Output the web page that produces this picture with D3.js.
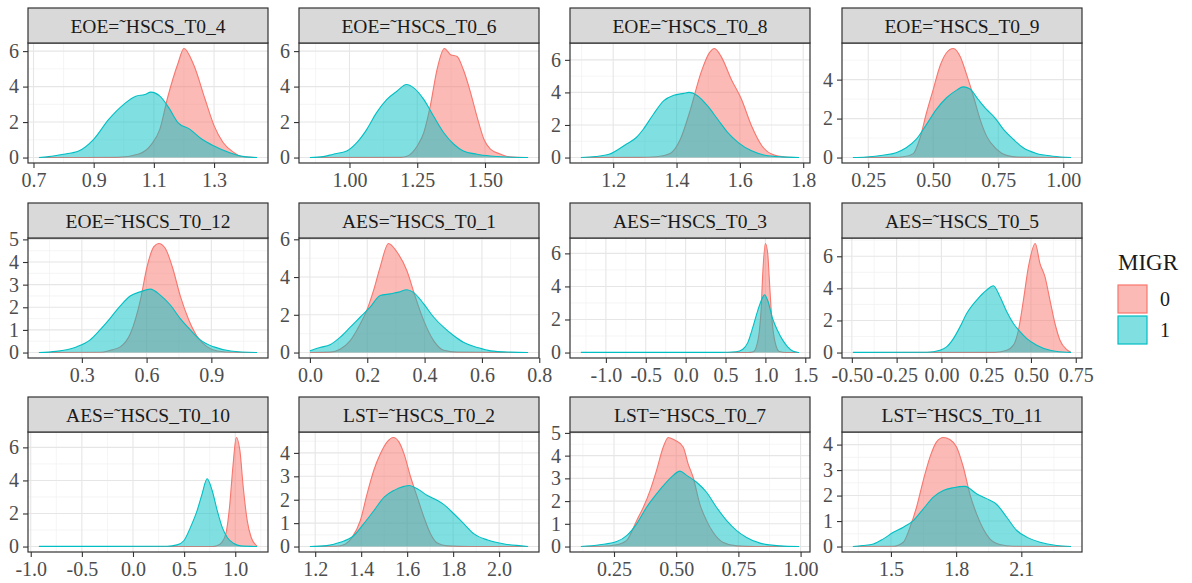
<!DOCTYPE html>
<html>
<head>
<meta charset="utf-8">
<script src="https://cdn.jsdelivr.net/npm/d3@7/dist/d3.min.js"></script>
<style>
  body { margin: 0; background: #ffffff; }
  svg { display: block; }
  text { font-family: 'Liberation Serif', serif; }
</style>
</head>
<body>
<svg></svg>
<script>
let width = 1192;
let height = 583;
let serif = "'Liberation Serif', serif";

let panelTitles = ["EOE=˜HSCS_T0_4", "EOE=˜HSCS_T0_6", "EOE=˜HSCS_T0_8", "EOE=˜HSCS_T0_9",
                   "EOE=˜HSCS_T0_12", "AES=˜HSCS_T0_1", "AES=˜HSCS_T0_3", "AES=˜HSCS_T0_5",
                   "AES=˜HSCS_T0_10", "LST=˜HSCS_T0_2", "LST=˜HSCS_T0_7", "LST=˜HSCS_T0_11"];

let xTickLabels = [["0.7", "0.9", "1.1", "1.3"],
                   ["1.00", "1.25", "1.50"],
                   ["1.2", "1.4", "1.6", "1.8"],
                   ["0.25", "0.50", "0.75", "1.00"],
                   ["0.3", "0.6", "0.9"],
                   ["0.0", "0.2", "0.4", "0.6", "0.8"],
                   ["-1.0", "-0.5", "0.0", "0.5", "1.0", "1.5"],
                   ["-0.50", "-0.25", "0.00", "0.25", "0.50", "0.75"],
                   ["-1.0", "-0.5", "0.0", "0.5", "1.0"],
                   ["1.2", "1.4", "1.6", "1.8", "2.0"],
                   ["0.25", "0.50", "0.75", "1.00"],
                   ["1.5", "1.8", "2.1"]];

let yTickLabels = [["0", "2", "4", "6"], ["0", "2", "4", "6"], ["0", "2", "4", "6"], ["0", "2", "4"],
                   ["0", "1", "2", "3", "4", "5"], ["0", "2", "4", "6"], ["0", "2", "4", "6"], ["0", "2", "4", "6"],
                   ["0", "2", "4", "6"], ["0", "1", "2", "3", "4"], ["0", "1", "2", "3", "4", "5"], ["0", "1", "2", "3", "4"]];

// density of MIGR = 0, [x, density]
let migr0 = [
  [[0.72,0],[0.98,0.01],[1.05,0.2],[1.09,0.7],[1.12,1.6],[1.146,3.4],[1.18,5.3],[1.2,6.15],[1.233,5.2],[1.27,3.3],[1.3,1.8],[1.33,0.85],[1.367,0.27],[1.39,0.06],[1.443,0]],
  [[0.854,0],[1.19,0.01],[1.212,0.07],[1.25,0.65],[1.274,1.4],[1.298,2.9],[1.323,4.96],[1.35,6.15],[1.373,5.8],[1.397,5.7],[1.42,4.96],[1.447,3.65],[1.47,2.34],[1.496,1.03],[1.52,0.47],[1.556,0.2],[1.59,0.04],[1.659,0]],
  [[1.098,0],[1.28,0.01],[1.337,0.05],[1.38,0.25],[1.412,1.12],[1.444,2.96],[1.477,5.2],[1.504,6.44],[1.52,6.7],[1.541,6.2],[1.573,4.8],[1.605,3.58],[1.637,1.94],[1.67,0.71],[1.702,0.2],[1.745,0.03],[1.787,0]],
  [[0.191,0],[0.35,0.01],[0.385,0.04],[0.423,0.2],[0.449,1.0],[0.474,2.3],[0.5,3.5],[0.526,4.7],[0.551,5.38],[0.577,5.6],[0.603,5.2],[0.628,4.27],[0.654,3.16],[0.68,1.96],[0.705,1.1],[0.744,0.42],[0.782,0.11],[0.83,0.02],[1.03,0]],
  [[0.101,0],[0.385,0.01],[0.432,0.1],[0.478,0.25],[0.525,0.84],[0.571,2.31],[0.602,3.79],[0.633,4.67],[0.656,4.82],[0.687,4.6],[0.719,3.79],[0.757,2.47],[0.796,1.43],[0.835,0.7],[0.881,0.25],[0.928,0.07],[1.005,0.01],[1.112,0]],
  [[0,0],[0.07,0.02],[0.105,0.18],[0.14,0.62],[0.175,1.5],[0.198,2.22],[0.222,3.29],[0.245,4.53],[0.274,5.78],[0.303,5.34],[0.338,4.35],[0.368,2.93],[0.397,1.69],[0.432,0.62],[0.467,0.12],[0.514,0.02],[0.761,0]],
  [[-1.313,0],[0.78,0],[0.85,0.05],[0.883,0.3],[0.925,1.33],[0.946,2.55],[0.967,4.78],[1.0,6.6],[1.029,6.0],[1.05,4.37],[1.07,2.74],[1.092,1.52],[1.133,0.41],[1.175,0.06],[1.26,0],[1.4225,0]],
  [[-0.494,0],[0.3,0.01],[0.365,0.14],[0.402,0.46],[0.43,1.39],[0.458,3.27],[0.486,5.35],[0.524,6.8],[0.55,5.56],[0.578,4.73],[0.606,3.27],[0.634,1.81],[0.662,0.77],[0.7,0.18],[0.724,0]],
  [[-0.92,0],[0.78,0],[0.82,0.05],[0.869,0.25],[0.911,0.85],[0.944,2.38],[0.977,4.82],[1.01,6.6],[1.045,5.83],[1.078,3.6],[1.117,1.57],[1.156,0.55],[1.199,0.1],[1.2136,0.03]],
  [[1.177,0],[1.29,0.01],[1.33,0.1],[1.36,0.38],[1.396,1.1],[1.426,2.26],[1.455,3.26],[1.484,3.97],[1.513,4.47],[1.54,4.66],[1.564,4.47],[1.586,3.97],[1.615,2.97],[1.644,2.11],[1.673,1.25],[1.702,0.54],[1.731,0.15],[1.775,0.03],[1.877,0],[2.126,0]],
  [[0.117,0],[0.2,0.01],[0.261,0.08],[0.301,0.27],[0.341,1.14],[0.368,1.73],[0.395,2.46],[0.421,3.35],[0.448,4.38],[0.468,4.8],[0.495,4.68],[0.528,4.38],[0.548,3.64],[0.568,3.05],[0.595,1.87],[0.622,1.14],[0.649,0.62],[0.689,0.18],[0.743,0.03],[0.823,0],[0.994,0]],
  [[1.325,0],[1.51,0.01],[1.557,0.17],[1.588,0.76],[1.618,1.55],[1.649,2.6],[1.68,3.52],[1.71,4.11],[1.741,4.28],[1.771,4.2],[1.802,3.91],[1.833,3.12],[1.863,2.07],[1.894,1.28],[1.925,0.69],[1.955,0.3],[2.001,0.08],[2.063,0.01],[2.329,0]]
];

// density of MIGR = 1
let migr1 = [
  [[0.718,0],[0.75,0.05],[0.8,0.19],[0.85,0.37],[0.9,1.03],[0.95,2.15],[1.0,3.0],[1.04,3.46],[1.07,3.55],[1.09,3.69],[1.12,3.46],[1.15,2.8],[1.18,1.97],[1.22,1.59],[1.26,1.03],[1.3,0.65],[1.35,0.28],[1.4,0.05],[1.443,0]],
  [[0.854,0],[0.903,0.05],[0.94,0.19],[0.99,0.37],[1.027,0.84],[1.064,1.59],[1.1,2.53],[1.138,3.28],[1.175,3.74],[1.21,4.12],[1.237,3.93],[1.274,3.28],[1.31,2.34],[1.348,1.4],[1.385,0.75],[1.42,0.37],[1.47,0.19],[1.52,0.09],[1.58,0.03],[1.659,0]],
  [[1.098,0],[1.144,0.06],[1.187,0.2],[1.241,0.82],[1.273,1.23],[1.295,1.74],[1.327,2.66],[1.359,3.48],[1.391,3.82],[1.423,3.94],[1.439,4.0],[1.466,3.8],[1.498,3.17],[1.53,2.35],[1.562,1.53],[1.595,0.92],[1.637,0.41],[1.68,0.14],[1.734,0.04],[1.787,0]],
  [[0.191,0],[0.242,0.03],[0.306,0.12],[0.357,0.25],[0.396,0.5],[0.435,0.94],[0.474,1.7],[0.512,2.47],[0.551,3.07],[0.59,3.46],[0.615,3.63],[0.64,3.53],[0.673,2.98],[0.705,2.47],[0.737,2.04],[0.77,1.45],[0.808,0.94],[0.846,0.5],[0.897,0.21],[0.96,0.07],[1.03,0]],
  [[0.101,0],[0.18,0.05],[0.275,0.25],[0.337,0.55],[0.384,1.0],[0.43,1.5],[0.477,2.05],[0.524,2.5],[0.57,2.68],[0.617,2.8],[0.663,2.54],[0.71,2.1],[0.756,1.5],[0.803,1.0],[0.85,0.55],[0.912,0.25],[0.99,0.07],[1.112,0]],
  [[0,0.09],[0.035,0.27],[0.07,0.41],[0.105,0.8],[0.14,1.33],[0.175,1.87],[0.21,2.4],[0.245,3.02],[0.28,3.11],[0.31,3.2],[0.338,3.33],[0.36,3.2],[0.397,2.58],[0.432,1.87],[0.467,1.33],[0.502,0.89],[0.537,0.53],[0.584,0.27],[0.63,0.09],[0.7,0.02],[0.761,0]],
  [[-1.313,0.01],[0.425,0.01],[0.633,0.05],[0.717,0.2],[0.779,0.6],[0.842,1.52],[0.904,2.54],[0.958,3.25],[0.988,3.5],[1.029,3.15],[1.092,2.03],[1.154,1.32],[1.217,0.75],[1.279,0.35],[1.342,0.1],[1.4,0.02],[1.4225,0]],
  [[-0.494,0.01],[-0.08,0.02],[-0.008,0.14],[0.029,0.35],[0.067,0.87],[0.104,1.6],[0.141,2.43],[0.197,3.27],[0.253,3.9],[0.29,4.16],[0.327,3.48],[0.365,2.54],[0.402,1.81],[0.44,1.29],[0.477,0.87],[0.532,0.46],[0.607,0.14],[0.68,0.03],[0.724,0.01]],
  [[-0.92,0.01],[0.333,0.02],[0.431,0.1],[0.497,0.35],[0.562,1.16],[0.627,2.17],[0.676,3.19],[0.725,4.1],[0.774,3.39],[0.824,2.17],[0.873,1.16],[0.922,0.55],[0.987,0.18],[1.052,0.04],[1.2136,0]],
  [[1.177,0],[1.25,0.04],[1.309,0.18],[1.367,0.46],[1.41,0.96],[1.455,1.53],[1.5,2.11],[1.543,2.4],[1.586,2.57],[1.608,2.61],[1.644,2.47],[1.688,2.18],[1.731,1.97],[1.76,1.79],[1.804,1.39],[1.848,0.96],[1.891,0.54],[1.95,0.28],[2.023,0.11],[2.096,0.03],[2.126,0]],
  [[0.117,0],[0.193,0.08],[0.261,0.22],[0.301,0.48],[0.341,1.0],[0.381,1.73],[0.421,2.32],[0.461,2.83],[0.488,3.13],[0.515,3.32],[0.542,3.13],[0.582,2.83],[0.622,2.39],[0.662,1.73],[0.703,1.14],[0.743,0.7],[0.783,0.4],[0.837,0.15],[0.917,0.03],[0.994,0]],
  [[1.325,0],[1.37,0.04],[1.419,0.1],[1.465,0.3],[1.511,0.56],[1.557,0.76],[1.603,1.02],[1.649,1.48],[1.695,1.94],[1.741,2.2],[1.787,2.31],[1.841,2.36],[1.894,2.07],[1.94,1.88],[1.987,1.65],[2.033,1.15],[2.079,0.63],[2.125,0.37],[2.186,0.17],[2.262,0.04],[2.329,0]]
];

let groups = [{label: "0", colour: "#F8766D", data: migr0},
              {label: "1", colour: "#00BFC4", data: migr1}];

let colLeft = [28, 299, 570, 842];
let rowTop = [8, 203, 397];
let panelWidth = 240, stripHeight = 35, panelHeight = 120;

let svg = d3.select("svg")
  .attr("width", width)
  .attr("height", height);

let defs = svg.append("defs");

panelTitles.forEach(function(title, i) {
  let col = i % 4, row = Math.floor(i / 4);
  let g = svg.append("g")
    .attr("transform", "translate(" + colLeft[col] + "," + (rowTop[row] + stripHeight) + ")");

  let allPts = migr0[i].concat(migr1[i]);
  let ext = d3.extent(allPts, d => d[0]);
  let xpad = (ext[1] - ext[0]) * 0.05;
  let ymax = d3.max(allPts, d => d[1]);

  let x = d3.scaleLinear().domain([ext[0] - xpad, ext[1] + xpad]).range([0, panelWidth]);
  let y = d3.scaleLinear().domain([-0.05 * ymax, 1.05 * ymax]).range([panelHeight, 0]);

  let xMajor = xTickLabels[i].map(Number);
  let yMajor = yTickLabels[i].map(Number);

  function minorOf(major, dom) {
    let step = major[1] - major[0];
    let out = major.map(v => v - step / 2);
    out.push(major[major.length - 1] + step / 2);
    return out.filter(v => v >= dom[0] && v <= dom[1]);
  }

  // grid
  g.selectAll(".xminor")
    .data(minorOf(xMajor, x.domain()))
    .enter().append("line")
      .attr("x1", d => x(d)).attr("x2", d => x(d))
      .attr("y1", 0).attr("y2", panelHeight)
      .style("stroke", "#f0f0f0").style("stroke-width", 0.7);
  g.selectAll(".yminor")
    .data(minorOf(yMajor, y.domain()))
    .enter().append("line")
      .attr("x1", 0).attr("x2", panelWidth)
      .attr("y1", d => y(d)).attr("y2", d => y(d))
      .style("stroke", "#f0f0f0").style("stroke-width", 0.7);
  g.selectAll(".xmajor")
    .data(xMajor)
    .enter().append("line")
      .attr("x1", d => x(d)).attr("x2", d => x(d))
      .attr("y1", 0).attr("y2", panelHeight)
      .style("stroke", "#e6e6e6").style("stroke-width", 1.1);
  g.selectAll(".ymajor")
    .data(yMajor)
    .enter().append("line")
      .attr("x1", 0).attr("x2", panelWidth)
      .attr("y1", d => y(d)).attr("y2", d => y(d))
      .style("stroke", "#e6e6e6").style("stroke-width", 1.1);

  // densities
  defs.append("clipPath").attr("id", "clip" + i)
    .append("rect").attr("width", panelWidth).attr("height", panelHeight);

  let area = d3.area().curve(d3.curveMonotoneX)
    .x(d => x(d[0])).y0(y(0)).y1(d => y(d[1]));
  let line = d3.line().curve(d3.curveMonotoneX)
    .x(d => x(d[0])).y(d => y(d[1]));

  let dens = g.append("g").attr("clip-path", "url(#clip" + i + ")");
  groups.forEach(function(grp) {
    dens.append("path")
      .attr("d", area(grp.data[i]))
      .style("fill", grp.colour)
      .style("fill-opacity", 0.5);
    dens.append("path")
      .attr("d", line(grp.data[i]))
      .style("fill", "none")
      .style("stroke", grp.colour)
      .style("stroke-width", 1.1);
  });

  // axes
  let xAxis = g.append("g")
    .attr("transform", "translate(0," + panelHeight + ")")
    .call(d3.axisBottom(x).tickValues(xMajor).tickFormat((d, j) => xTickLabels[i][j])
      .tickSize(5).tickPadding(5));
  let yAxis = g.append("g")
    .call(d3.axisLeft(y).tickValues(yMajor).tickFormat((d, j) => yTickLabels[i][j])
      .tickSize(5).tickPadding(4));

  [xAxis, yAxis].forEach(function(ax) {
    ax.attr("font-family", serif).attr("font-size", 20);
    ax.select(".domain").remove();
    ax.selectAll("line").style("stroke", "#333333").style("stroke-width", 1.1);
    ax.selectAll("text")
      .style("font-family", serif)
      .style("font-size", "20px")
      .style("fill", "#4d4d4d");
  });

  // panel border
  g.append("rect")
    .attr("width", panelWidth).attr("height", panelHeight)
    .style("fill", "none").style("stroke", "#333333").style("stroke-width", 1.2);

  // strip
  g.append("rect")
    .attr("y", -stripHeight)
    .attr("width", panelWidth).attr("height", stripHeight)
    .style("fill", "#d9d9d9").style("stroke", "#333333").style("stroke-width", 1.2);
  g.append("text")
    .attr("x", panelWidth / 2)
    .attr("y", -stripHeight + 25)
    .style("text-anchor", "middle")
    .style("font-family", serif)
    .style("font-size", "19.5px")
    .style("fill", "#1a1a1a")
    .text(title);
});

// legend
let legend = svg.append("g").attr("transform", "translate(1118,0)");
legend.append("text")
  .attr("x", 0).attr("y", 270)
  .style("font-family", serif)
  .style("font-size", "23px")
  .style("fill", "#1a1a1a")
  .text("MIGR");

let keys = legend.selectAll(".key")
  .data(groups)
  .enter().append("g")
    .attr("class", "key")
    .attr("transform", (d, i) => "translate(0," + (285 + i * 31) + ")");
keys.append("rect")
  .attr("width", 29).attr("height", 28)
  .style("fill", d => d.colour)
  .style("fill-opacity", 0.5)
  .style("stroke", d => d.colour)
  .style("stroke-width", 1.2);
keys.append("text")
  .attr("x", 42).attr("y", 14)
  .attr("dy", "0.35em")
  .style("font-family", serif)
  .style("font-size", "20px")
  .style("fill", "#1a1a1a")
  .text(d => d.label);
</script>
</body>
</html>
